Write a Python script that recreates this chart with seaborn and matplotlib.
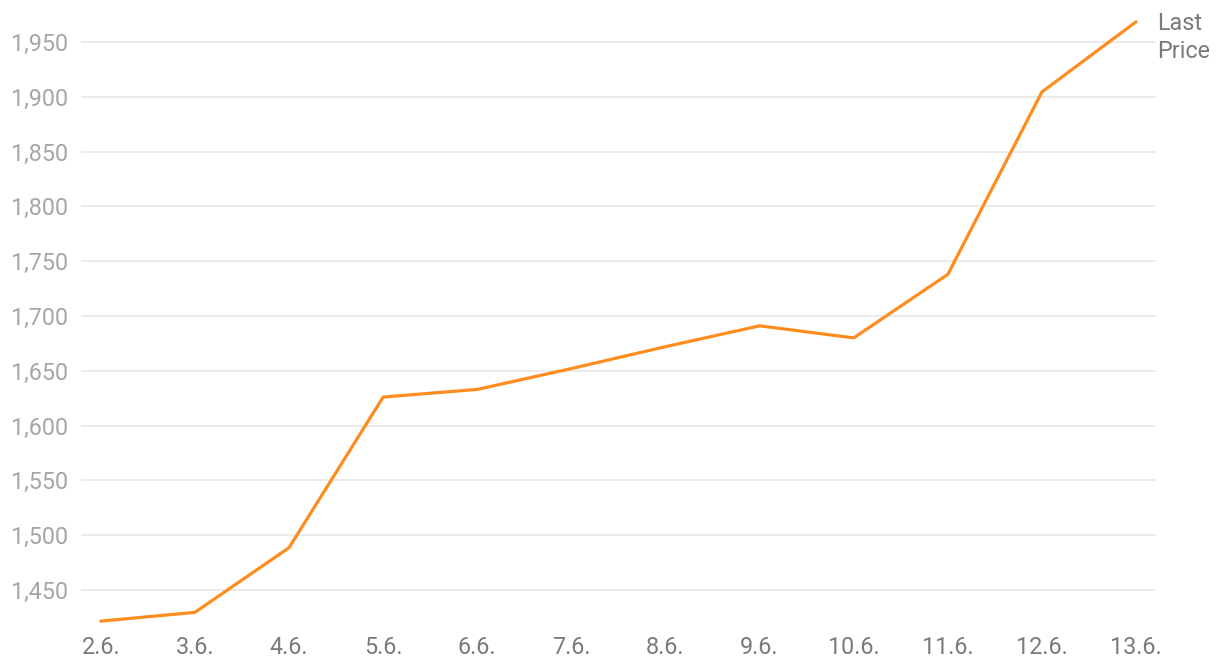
import pandas as pd
import matplotlib.pyplot as plt
import seaborn as sns
from matplotlib.ticker import FuncFormatter

dates = ['2.6.', '3.6.', '4.6.', '5.6.', '6.6.', '7.6.', '8.6.', '9.6.',
         '10.6.', '11.6.', '12.6.', '13.6.']
last_price = [1421.5, 1429.5, 1488.5, 1626, 1633, 1652, 1672, 1691,
              1680, 1738, 1904.5, 1968.5]
y_ticks = [1450, 1500, 1550, 1600, 1650, 1700, 1750, 1800, 1850, 1900, 1950]

sns.set_style('white')
plt.rcParams['font.family'] = ['Roboto', 'DejaVu Sans']

df = pd.DataFrame({'pos': range(len(dates)), 'price': last_price})

fig = plt.figure(figsize=(12.2, 6.72), dpi=100)
ax = fig.add_axes([0.0664, 0.07, 0.881, 0.9])

sns.lineplot(data=df, x='pos', y='price', ax=ax, color='#ff8c1f',
             linewidth=2.3, zorder=3)

ax.set_xlim(-0.21, len(dates) - 1 + 0.21)
ax.set_ylim(1418, 1970)
ax.set_xticks(range(len(dates)))
ax.set_xticklabels(dates)
ax.set_yticks(y_ticks)
ax.yaxis.set_major_formatter(FuncFormatter(lambda v, p: f'{v:,.0f}'))

ax.grid(axis='y', color='#e6e6e6', linewidth=1.1)
ax.grid(axis='x', visible=False)
for s in ax.spines.values():
    s.set_visible(False)
ax.tick_params(axis='both', length=0, labelsize=16.8)
ax.tick_params(axis='y', colors='#a6a6a6', pad=9)
ax.tick_params(axis='x', colors='#7a7a7a', pad=8)
ax.set_xlabel('')
ax.set_ylabel('')

ax.annotate('Last\nPrice', xy=(len(dates) - 1, last_price[-1]),
            xytext=(15, 7), textcoords='offset points',
            color='#7a7a7a', fontsize=16.8, va='top', ha='left',
            linespacing=1.3, annotation_clip=False)

fig.savefig('out.png', dpi=100)
